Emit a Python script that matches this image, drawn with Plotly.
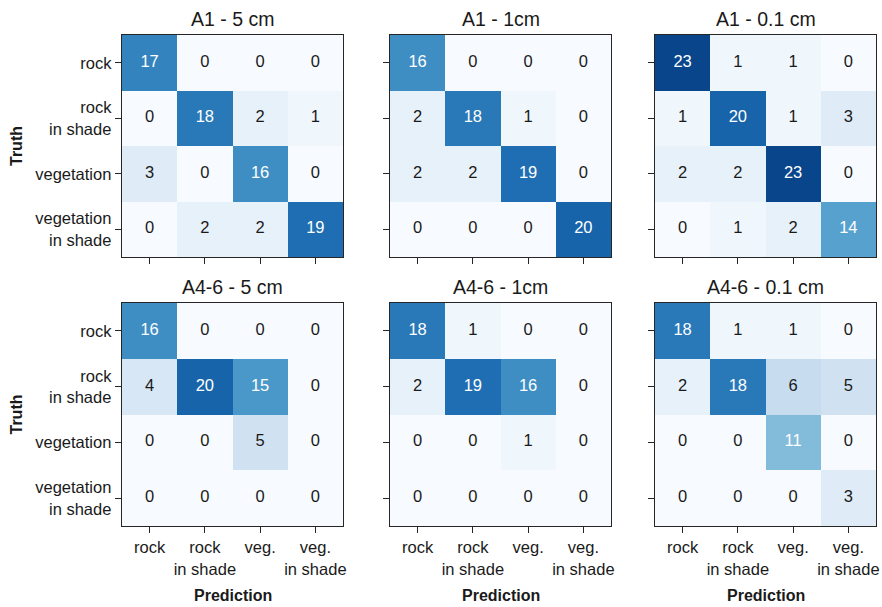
import plotly.graph_objects as go

# ---------------- data ----------------
pred_labels = ["rock", "rock<br>in shade", "veg.", "veg.<br>in shade"]
truth_labels = ["rock", "rock<br>in shade", "vegetation", "vegetation<br>in shade"]
titles = ["A1 - 5 cm", "A1 - 1cm", "A1 - 0.1 cm", "A4-6 - 5 cm", "A4-6 - 1cm", "A4-6 - 0.1 cm"]

cm_a1_5cm = [[17, 0, 0, 0],
             [0, 18, 2, 1],
             [3, 0, 16, 0],
             [0, 2, 2, 19]]
cm_a1_1cm = [[16, 0, 0, 0],
             [2, 18, 1, 0],
             [2, 2, 19, 0],
             [0, 0, 0, 20]]
cm_a1_01cm = [[23, 1, 1, 0],
              [1, 20, 1, 3],
              [2, 2, 23, 0],
              [0, 1, 2, 14]]
cm_a46_5cm = [[16, 0, 0, 0],
              [4, 20, 15, 0],
              [0, 0, 5, 0],
              [0, 0, 0, 0]]
cm_a46_1cm = [[18, 1, 0, 0],
              [2, 19, 16, 0],
              [0, 0, 1, 0],
              [0, 0, 0, 0]]
cm_a46_01cm = [[18, 1, 1, 0],
               [2, 18, 6, 5],
               [0, 0, 11, 0],
               [0, 0, 0, 3]]
matrices = [cm_a1_5cm, cm_a1_1cm, cm_a1_01cm, cm_a46_5cm, cm_a46_1cm, cm_a46_01cm]

# ---------------- layout geometry (pixels) ----------------
W, H = 882, 607
col_px = [(122, 343), (390, 611), (655, 876)]
row_px = [(35, 257), (303, 526)]

def fx(p):
    return p / W

def fy(p):
    return 1 - p / H

FONT = "Liberation Sans, Arial, sans-serif"
FRAME = "#262626"
TXT = "#1a1a1a"

fig = go.Figure()
layout = dict(
    width=W, height=H, autosize=False,
    margin=dict(l=0, r=0, t=0, b=0, autoexpand=False),
    paper_bgcolor="white", plot_bgcolor="white",
    showlegend=False,
    font=dict(family=FONT, color=TXT),
)
annotations = []

idx = list(range(4))
for k, cm in enumerate(matrices):
    r, c = divmod(k, 3)
    n = k + 1
    xa = "x" if n == 1 else f"x{n}"
    ya = "y" if n == 1 else f"y{n}"
    fig.add_trace(go.Heatmap(
        z=cm, x=idx, y=idx, xaxis=xa, yaxis=ya,
        colorscale="Blues", zmin=0, zmax=25, showscale=False,
        hoverinfo="skip",
    ))
    flat_x, flat_y, flat_t, flat_c = [], [], [], []
    vals = [v for row in cm for v in row]
    thresh = (max(vals) + min(vals)) / 2
    for i in range(4):
        for j in range(4):
            v = cm[i][j]
            flat_x.append(j)
            flat_y.append(i)
            flat_t.append(str(v))
            flat_c.append("white" if v > thresh else TXT)
    fig.add_trace(go.Scatter(
        x=flat_x, y=flat_y, text=flat_t, mode="text",
        textfont=dict(family=FONT, size=16.5, color=flat_c),
        xaxis=xa, yaxis=ya, hoverinfo="skip",
    ))

    x0, x1 = col_px[c]
    y0, y1 = row_px[r]
    xkey = "xaxis" if n == 1 else f"xaxis{n}"
    ykey = "yaxis" if n == 1 else f"yaxis{n}"
    common = dict(
        tickmode="array", tickvals=idx,
        ticks="outside", ticklen=6, tickwidth=1.2, tickcolor=FRAME,
        showline=True, mirror=True, linecolor=FRAME, linewidth=1.3,
        showgrid=False, zeroline=False, fixedrange=True, automargin=False,
        tickfont=dict(family=FONT, size=16.5, color=TXT),
    )
    layout[xkey] = dict(
        domain=[fx(x0), fx(x1)], anchor=ya, range=[-0.5, 3.5],
        ticktext=pred_labels if r == 1 else [""] * 4,
        showticklabels=(r == 1), **common,
    )
    layout[ykey] = dict(
        domain=[fy(y1), fy(y0)], anchor=xa, range=[3.5, -0.5],
        ticktext=truth_labels if c == 0 else [""] * 4,
        showticklabels=(c == 0), **common,
    )

    # panel title
    annotations.append(dict(
        text=titles[k], x=fx((x0 + x1) / 2), y=fy(y0 - 3),
        xref="paper", yref="paper", xanchor="center", yanchor="bottom",
        showarrow=False, font=dict(family=FONT, size=19.5, color=TXT),
    ))
    if r == 1:
        annotations.append(dict(
            text="<b>Prediction</b>", x=fx((x0 + x1) / 2), y=fy(595),
            xref="paper", yref="paper", xanchor="center", yanchor="middle",
            showarrow=False, font=dict(family=FONT, size=16, color=TXT),
        ))
    if c == 0:
        annotations.append(dict(
            text="<b>Truth</b>", x=fx(16), y=fy((y0 + y1) / 2),
            xref="paper", yref="paper", xanchor="center", yanchor="middle",
            textangle=-90, showarrow=False,
            font=dict(family=FONT, size=16, color=TXT),
        ))

layout["annotations"] = annotations
fig.update_layout(**layout)
fig.write_html(
    "out.html",
    config={"displayModeBar": False, "staticPlot": True},
    post_script="document.body.style.margin='0';document.body.style.overflow='hidden';",
)
